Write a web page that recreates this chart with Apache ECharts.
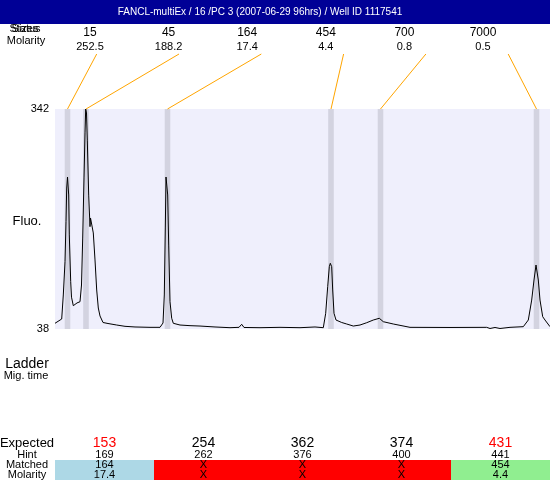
<!DOCTYPE html>
<html><head><meta charset="utf-8">
<script src="https://cdn.jsdelivr.net/npm/echarts@6/dist/echarts.min.js"></script>
<style>html,body{margin:0;padding:0;background:#fff}#c{width:550px;height:480px}</style>
</head><body><div id="c"></div>
<script>
// ---- Data ----
const titleText = 'FANCL-multiEx / 16 /PC 3 (2007-06-29 96hrs) / Well ID 1117541';
const traceX = [0,6.7,8.3,10,11,11.7,12.5,13.7,14.3,15.7,16.5,18.3,22,25,26.5,27.7,29,30,30.7,31.5,32.3,33.7,35,35.5,37.3,38.3,40,41.7,43.3,45,48,53,61.7,70,80,95,105,108,109.3,110.3,111,111.7,112.7,113.7,115,116.7,118.3,125,135,145,160,175,184,186.7,189,205,225,245,260,268.3,270.7,272.7,274.3,275.3,276.7,277.7,279,281,286.7,291.7,298.3,305,311.7,318.3,324.3,328.3,338.3,355,395,431.7,435,440,445,455,468.3,473.3,476.7,479,481,482,483.3,485,487.7,490,495];
const traceY = [45.9,51.8,85,131,186.3,232.8,248,223.2,168,103.4,82,70.2,74,75.7,98.8,163.7,246.7,309,342,336.5,299,223,179.4,191.4,192.8,170.7,133.4,91.9,67,56,47,45.6,43.5,41.7,40.8,40.3,40.3,46.3,85,177.6,248,249.4,223.2,154,75.7,52.8,45.9,43.5,42.6,42.1,40.8,39.8,40.3,44.5,40.1,39.8,40.3,39.8,40.8,39.8,59.7,96.5,124.1,128.8,124.1,91.9,59.7,50.4,47,44.9,42.1,43.5,46.7,50.4,52.8,48.1,44.9,40.3,40.1,40.3,38.7,40.1,38.7,40.3,41.2,50.4,78,105.7,126.4,127.8,105.7,78,55,50.4,41.2];
const yMin = 38, yMax = 342;
const ladderX = [12.5, 31, 112.5, 276, 325.5, 481.5];
const ladderSizes = ['15','45','164','454','700','7000'];
const ladderMolarity = ['252.5','188.2','17.4','4.4','0.8','0.5'];
const expected = ['153','254','362','374','431'];
const expectedHighlight = [true,false,false,false,true];
const hint = ['169','262','376','400','441'];
const matched = ['164','X','X','X','454'];
const matchedMolarity = ['17.4','X','X','X','4.4'];
const matchState = ['first','none','none','none','last'];

// ---- Styles ----
const FONT = 'Liberation Sans, Arial, sans-serif';
const stateColor = {first:'#ADD8E6', none:'#FF0000', last:'#90EE90'};
const bandHalf = 2.8;

const chart = echarts.init(document.getElementById('c'), null, {renderer:'canvas'});
const pts = traceX.map((x,i)=>[x, traceY[i]]);

chart.setOption({
  animation:false,
  backgroundColor:'#fff',
  grid:[
    {left:55, right:0, top:109, height:220, show:true, backgroundColor:'#EFEFFC', borderWidth:0},
    {left:55, right:0, top:460, height:20, show:false}
  ],
  xAxis:[
    {gridIndex:0, type:'value', min:0, max:495, show:false},
    {gridIndex:1, type:'category', data:expected, show:false}
  ],
  yAxis:[
    {gridIndex:0, type:'value', min:yMin, max:yMax, interval:yMax-yMin,
     axisLine:{show:false}, axisTick:{show:false}, splitLine:{show:false},
     axisLabel:{color:'#000', fontSize:11, fontFamily:FONT, margin:6}},
    {gridIndex:1, type:'value', min:0, max:1, show:false}
  ],
  series:[
    {type:'line', xAxisIndex:0, yAxisIndex:0, data:pts, showSymbol:false, symbol:'none',
     lineStyle:{color:'#000', width:1}, z:3,
     markArea:{silent:true, itemStyle:{color:'#D3D3E0'},
       data: ladderX.map(x=>[{xAxis:x-bandHalf, yAxis:yMin},{xAxis:x+bandHalf, yAxis:yMax}])}
    },
    {type:'custom', xAxisIndex:1, yAxisIndex:1, clip:false,
     data: expected.map((e,i)=>[i,1]),
     renderItem:function(params, api){
       const i = api.value(0);
       const c = api.coord([i,1]);
       const w = api.size([1,0])[0];
       const h = api.size([0,1])[1];
       const x0 = c[0]-w/2, y0 = c[1];
       return {type:'group', children:[
         {type:'rect', shape:{x:x0, y:y0, width:w+0.5, height:h}, style:{fill:stateColor[matchState[i]]}},
         {type:'text', style:{text:expected[i], x:c[0], y:y0-17, align:'center', verticalAlign:'middle',
           fill: expectedHighlight[i] ? '#FF0000' : '#000', font:'14px '+FONT}},
         {type:'text', style:{text:hint[i], x:c[0], y:y0-5, align:'center', verticalAlign:'middle', fill:'#000', font:'11px '+FONT}},
         {type:'text', style:{text:matched[i], x:c[0], y:y0+5, align:'center', verticalAlign:'middle', fill:'#000', font:'11px '+FONT}},
         {type:'text', style:{text:matchedMolarity[i], x:c[0], y:y0+15, align:'center', verticalAlign:'middle', fill:'#000', font:'11px '+FONT}}
       ]};
     }
    }
  ]
});

// ---- overlay texts and leader lines ----
const g = [];
const leftText = (t,x,y,size)=>g.push({type:'text', z:10, style:{text:t, x:x, y:y, align:'center', verticalAlign:'middle', fill:'#000', font:size+'px '+FONT}});
leftText('Sizes', 25, 29, 11);
leftText('Status', 25, 29, 11);
leftText('Molarity', 26, 41, 11);
leftText('Fluo.', 27, 221, 13);
leftText('Ladder', 27, 364, 14);
leftText('Mig. time', 26, 376, 11);
leftText('Expected', 27, 443, 13);
leftText('Hint', 27, 455, 11);
leftText('Matched', 27, 465, 11);
leftText('Molarity', 27, 475, 11);
// title bar
g.push({type:'rect', z:20, shape:{x:0,y:0,width:550,height:24}, style:{fill:'#000096'}});
g.push({type:'text', z:21, style:{text:titleText, x:260, y:12, align:'center', verticalAlign:'middle', fill:'#fff', font:'10px '+FONT}});
// ladder labels + leaders
const topY = chart.convertToPixel({yAxisIndex:0}, yMax);
ladderSizes.forEach((s,i)=>{
  const lx = 90 + i*78.6;
  g.push({type:'text', z:10, style:{text:s, x:lx, y:33, align:'center', verticalAlign:'middle', fill:'#000', font:'12px '+FONT}});
  g.push({type:'text', z:10, style:{text:ladderMolarity[i], x:lx, y:47, align:'center', verticalAlign:'middle', fill:'#000', font:'11px '+FONT}});
  const bx = chart.convertToPixel({xAxisIndex:0}, ladderX[i]);
  g.push({type:'line', z:10, shape:{x1:96.7 + i*82.3, y1:54, x2:bx, y2:topY}, style:{stroke:'#FFA500', lineWidth:1}});
});
chart.setOption({graphic:g});
</script>
</body></html>
